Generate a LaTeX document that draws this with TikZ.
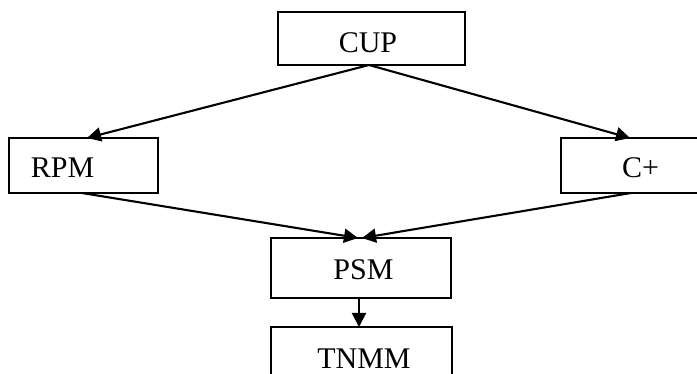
\documentclass[tikz,border=0pt]{standalone}
\usepackage{fontspec}
\setmainfont{Liberation Serif}
\usetikzlibrary{arrows.meta}
\begin{document}
\begin{tikzpicture}[x=1pt,y=-1pt,
  box/.style={draw, line width=1.9pt, inner sep=0pt, outer sep=0pt},
  lbl/.style={inner sep=0pt, anchor=base, font=\fontsize{30}{36}\selectfont},
  arr/.style={line width=2.1pt, -{Triangle[length=14pt,width=14pt]}}]
\useasboundingbox (0,0) rectangle (697,374);
\clip (0,0) rectangle (697,374);
% boxes
\node[box, minimum width=187pt, minimum height=53pt] (cup) at (371.5,38.5) {};
\node[box, minimum width=149pt, minimum height=55pt] (rpm) at (83.5,165.5) {};
\node[box, minimum width=149pt, minimum height=55pt] (cplus) at (635.5,165.5) {};
\node[box, minimum width=180pt, minimum height=60pt] (psm) at (361,268) {};
\node[box, minimum width=181pt, minimum height=60pt] (tnmm) at (361.5,357) {};
% texts
\node[lbl] (cuptxt) at (368,53) {CUP};
\node[lbl] (rpmtxt) at (62.5,178) {RPM};
\node[lbl] (cplustxt) at (640.5,178) {C+};
\node[lbl] (psmtxt) at (363.5,280) {PSM};
\node[lbl] (tnmmtxt) at (364,369) {TNMM};
% connectors
\draw[arr] ([xshift=-2.5pt]cup.south) -- ([xshift=3.5pt]rpm.north);
\draw[arr] ([xshift=-2.5pt]cup.south) -- ([xshift=-5.5pt]cplus.north);
\draw[arr] ([xshift=-1.5pt]rpm.south) -- ([xshift=-3pt]psm.north);
\draw[arr] ([xshift=-4.5pt]cplus.south) -- ([xshift=1pt]psm.north);
\draw[arr] ([xshift=-2pt]psm.south) -- ([xshift=-2.5pt]tnmm.north);
\end{tikzpicture}
\end{document}
